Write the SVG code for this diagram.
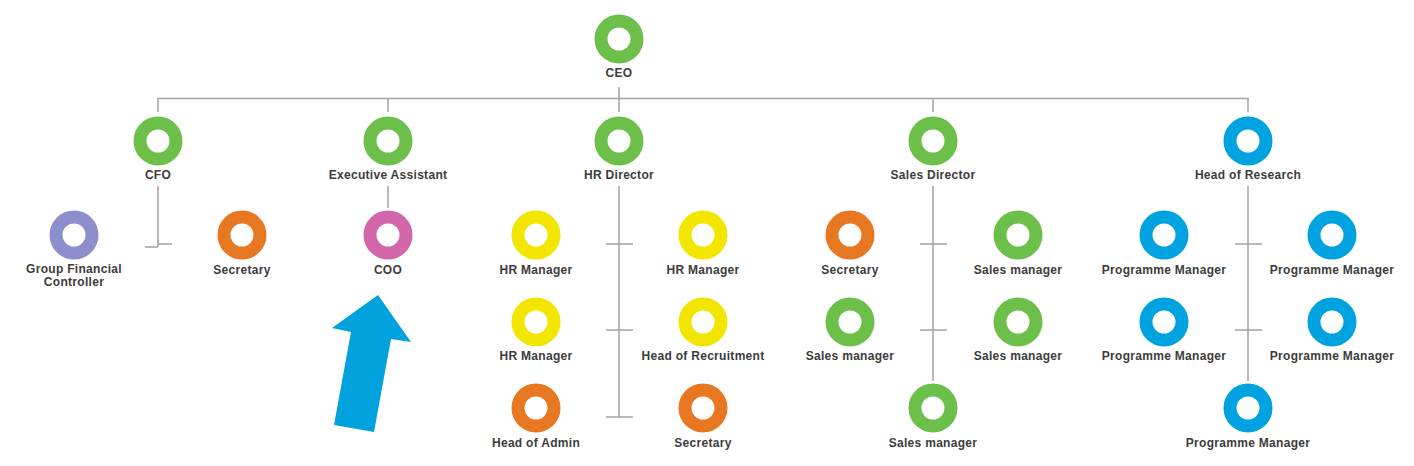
<svg xmlns="http://www.w3.org/2000/svg" width="1414" height="466" viewBox="0 0 1414 466">
<style>
.ring{fill:none;stroke-width:13}
.g{stroke:#6cc04a}.y{stroke:#f2e500}.o{stroke:#e87722}.b{stroke:#00a3df}.p{stroke:#d167a9}.v{stroke:#8c8fcb}
text{font-family:"Liberation Sans",Arial,sans-serif;font-weight:bold;font-size:12px;fill:#3c3c3c;text-anchor:middle;letter-spacing:0.3px}
.conn path{fill:none;stroke:#a3a3a3;stroke-width:1.5}
</style>
<rect width="1414" height="466" fill="#fff"/>
<g class="conn">
<path d="M158,112 V98.5 H1248 V112"/>
<path d="M388,98.5 V112 M619,87 V112 M933,98.5 V112"/>
<path d="M158,186 V247 M145,247 H158 M158,244 H172"/>
<path d="M388,186 V208"/>
<path d="M619,186 V417 M606,244 H633 M606,330 H633 M606,417 H633"/>
<path d="M933,186 V381 M920,244 H947 M920,330 H947"/>
<path d="M1248,186 V381 M1235,244 H1262 M1235,330 H1262"/>
</g>
<g id="ceo"><circle class="ring g" cx="619" cy="39" r="18"/><text x="619" y="77">CEO</text></g>
<g id="cfo"><circle class="ring g" cx="158" cy="141" r="18"/><text x="158" y="179">CFO</text></g>
<g id="exec-assistant"><circle class="ring g" cx="388" cy="141" r="18"/><text x="388" y="179">Executive Assistant</text></g>
<g id="hr-director"><circle class="ring g" cx="619" cy="141" r="18"/><text x="619" y="179">HR Director</text></g>
<g id="sales-director"><circle class="ring g" cx="933" cy="141" r="18"/><text x="933" y="179">Sales Director</text></g>
<g id="head-research"><circle class="ring b" cx="1248" cy="141" r="18"/><text x="1248" y="179">Head of Research</text></g>
<g id="gfc"><circle class="ring v" cx="74" cy="235" r="18"/><text x="74" y="273">Group Financial</text><text x="74" y="286">Controller</text></g>
<g id="cfo-secretary"><circle class="ring o" cx="242" cy="235" r="18"/><text x="242" y="274">Secretary</text></g>
<g id="coo"><circle class="ring p" cx="388" cy="235" r="18"/><text x="388" y="274">COO</text></g>
<g id="hr-manager-1"><circle class="ring y" cx="536" cy="235" r="18"/><text x="536" y="274">HR Manager</text></g>
<g id="hr-manager-2"><circle class="ring y" cx="703" cy="235" r="18"/><text x="703" y="274">HR Manager</text></g>
<g id="hr-manager-3"><circle class="ring y" cx="536" cy="322" r="18"/><text x="536" y="360">HR Manager</text></g>
<g id="head-recruitment"><circle class="ring y" cx="703" cy="322" r="18"/><text x="703" y="360">Head of Recruitment</text></g>
<g id="head-admin"><circle class="ring o" cx="536" cy="408" r="18"/><text x="536" y="447">Head of Admin</text></g>
<g id="hr-secretary"><circle class="ring o" cx="703" cy="408" r="18"/><text x="703" y="447">Secretary</text></g>
<g id="sales-secretary"><circle class="ring o" cx="850" cy="235" r="18"/><text x="850" y="274">Secretary</text></g>
<g id="sales-manager-1"><circle class="ring g" cx="1018" cy="235" r="18"/><text x="1018" y="274">Sales manager</text></g>
<g id="sales-manager-2"><circle class="ring g" cx="850" cy="322" r="18"/><text x="850" y="360">Sales manager</text></g>
<g id="sales-manager-3"><circle class="ring g" cx="1018" cy="322" r="18"/><text x="1018" y="360">Sales manager</text></g>
<g id="sales-manager-4"><circle class="ring g" cx="933" cy="408" r="18"/><text x="933" y="447">Sales manager</text></g>
<g id="pm-1"><circle class="ring b" cx="1164" cy="235" r="18"/><text x="1164" y="274">Programme Manager</text></g>
<g id="pm-2"><circle class="ring b" cx="1332" cy="235" r="18"/><text x="1332" y="274">Programme Manager</text></g>
<g id="pm-3"><circle class="ring b" cx="1164" cy="322" r="18"/><text x="1164" y="360">Programme Manager</text></g>
<g id="pm-4"><circle class="ring b" cx="1332" cy="322" r="18"/><text x="1332" y="360">Programme Manager</text></g>
<g id="pm-5"><circle class="ring b" cx="1248" cy="408" r="18"/><text x="1248" y="447">Programme Manager</text></g>
<polygon id="arrow" points="378,295 411,342 391,339 374,432 334,425 351,332 332,328" fill="#00a2de"/>
</svg>
